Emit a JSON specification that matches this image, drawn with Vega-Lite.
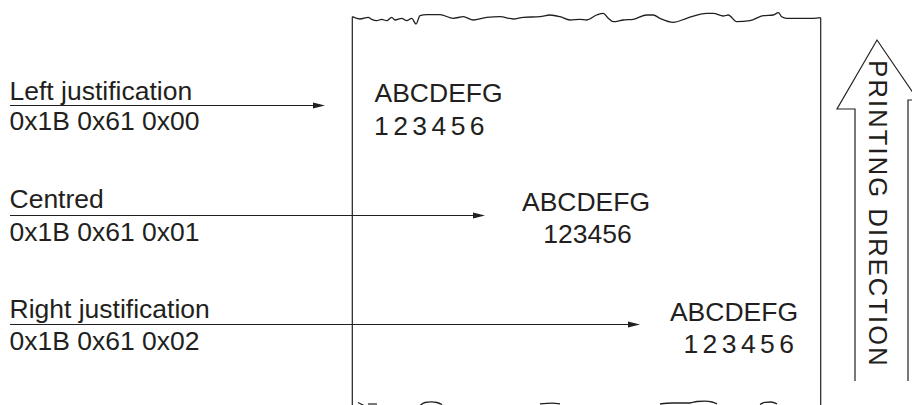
{
  "$schema": "https://vega.github.io/schema/vega-lite/v6.json",
  "width": 912,
  "height": 405,
  "autosize": {"type": "none"},
  "padding": 0,
  "background": "white",
  "config": {"view": {"stroke": null}},
  "datasets": {
    "lines": [
      {"seg": "arrow1", "i": 0, "x": 10, "y": 105.5},
      {"seg": "arrow1", "i": 1, "x": 320, "y": 105.5},
      {"seg": "arrow2", "i": 0, "x": 10, "y": 215.5},
      {"seg": "arrow2", "i": 1, "x": 480, "y": 215.5},
      {"seg": "arrow3", "i": 0, "x": 10, "y": 324.5},
      {"seg": "arrow3", "i": 1, "x": 635, "y": 324.5},
      {"seg": "paperL", "i": 0, "x": 352.3, "y": 16.7},
      {"seg": "paperL", "i": 1, "x": 352.3, "y": 406},
      {"seg": "paperR", "i": 0, "x": 820.7, "y": 17.7},
      {"seg": "paperR", "i": 1, "x": 820.7, "y": 406},
      {"seg": "dir", "i": 0, "x": 855, "y": 381},
      {"seg": "dir", "i": 1, "x": 855, "y": 109},
      {"seg": "dir", "i": 2, "x": 837, "y": 109},
      {"seg": "dir", "i": 3, "x": 877, "y": 40},
      {"seg": "dir", "i": 4, "x": 918, "y": 100},
      {"seg": "dir", "i": 5, "x": 908, "y": 100},
      {"seg": "dir", "i": 6, "x": 908, "y": 381},
      {"seg": "wave", "i": 0, "x": 352.3, "y": 16.7},
      {"seg": "wave", "i": 1, "x": 360, "y": 19},
      {"seg": "wave", "i": 2, "x": 368.3, "y": 17.3},
      {"seg": "wave", "i": 3, "x": 371.7, "y": 19.3},
      {"seg": "wave", "i": 4, "x": 376.7, "y": 20.7},
      {"seg": "wave", "i": 5, "x": 381.7, "y": 19.3},
      {"seg": "wave", "i": 6, "x": 386.7, "y": 20.7},
      {"seg": "wave", "i": 7, "x": 391.7, "y": 17.3},
      {"seg": "wave", "i": 8, "x": 395, "y": 20},
      {"seg": "wave", "i": 9, "x": 401.7, "y": 18.3},
      {"seg": "wave", "i": 10, "x": 406.7, "y": 20.7},
      {"seg": "wave", "i": 11, "x": 411.7, "y": 18.3},
      {"seg": "wave", "i": 12, "x": 416, "y": 24},
      {"seg": "wave", "i": 13, "x": 420, "y": 15.7},
      {"seg": "wave", "i": 14, "x": 426.7, "y": 14.7},
      {"seg": "wave", "i": 15, "x": 440, "y": 14.7},
      {"seg": "wave", "i": 16, "x": 453.3, "y": 18.3},
      {"seg": "wave", "i": 17, "x": 463.3, "y": 16.7},
      {"seg": "wave", "i": 18, "x": 473.3, "y": 20},
      {"seg": "wave", "i": 19, "x": 486.7, "y": 17.3},
      {"seg": "wave", "i": 20, "x": 500, "y": 16.7},
      {"seg": "wave", "i": 21, "x": 513.3, "y": 19},
      {"seg": "wave", "i": 22, "x": 523.3, "y": 17.3},
      {"seg": "wave", "i": 23, "x": 540, "y": 16.7},
      {"seg": "wave", "i": 24, "x": 550, "y": 15},
      {"seg": "wave", "i": 25, "x": 560, "y": 16.7},
      {"seg": "wave", "i": 26, "x": 570, "y": 20},
      {"seg": "wave", "i": 27, "x": 580, "y": 19.3},
      {"seg": "wave", "i": 28, "x": 586.7, "y": 20},
      {"seg": "wave", "i": 29, "x": 596.7, "y": 15},
      {"seg": "wave", "i": 30, "x": 603.3, "y": 13.3},
      {"seg": "wave", "i": 31, "x": 608.3, "y": 18.3},
      {"seg": "wave", "i": 32, "x": 613.3, "y": 21.7},
      {"seg": "wave", "i": 33, "x": 623.3, "y": 20},
      {"seg": "wave", "i": 34, "x": 633.3, "y": 19.3},
      {"seg": "wave", "i": 35, "x": 646.7, "y": 15},
      {"seg": "wave", "i": 36, "x": 653.3, "y": 15},
      {"seg": "wave", "i": 37, "x": 660, "y": 18.3},
      {"seg": "wave", "i": 38, "x": 673.3, "y": 22.3},
      {"seg": "wave", "i": 39, "x": 686.7, "y": 18.3},
      {"seg": "wave", "i": 40, "x": 706.7, "y": 13.3},
      {"seg": "wave", "i": 41, "x": 713.3, "y": 13.3},
      {"seg": "wave", "i": 42, "x": 723.3, "y": 16},
      {"seg": "wave", "i": 43, "x": 728.3, "y": 15},
      {"seg": "wave", "i": 44, "x": 736.7, "y": 21.7},
      {"seg": "wave", "i": 45, "x": 750, "y": 20.7},
      {"seg": "wave", "i": 46, "x": 763.3, "y": 15.7},
      {"seg": "wave", "i": 47, "x": 773.3, "y": 15},
      {"seg": "wave", "i": 48, "x": 778.3, "y": 12.7},
      {"seg": "wave", "i": 49, "x": 781.7, "y": 16.7},
      {"seg": "wave", "i": 50, "x": 786.7, "y": 18.3},
      {"seg": "wave", "i": 51, "x": 800, "y": 18.3},
      {"seg": "wave", "i": 52, "x": 813.3, "y": 18.3},
      {"seg": "wave", "i": 53, "x": 820.7, "y": 17.7},
      {"seg": "b1", "i": 0, "x": 358, "y": 402.5},
      {"seg": "b1", "i": 1, "x": 364, "y": 405.5},
      {"seg": "b1b", "i": 0, "x": 368, "y": 404},
      {"seg": "b1b", "i": 1, "x": 377, "y": 404},
      {"seg": "b2", "i": 0, "x": 420, "y": 405.5},
      {"seg": "b2", "i": 1, "x": 425, "y": 402.5},
      {"seg": "b2", "i": 2, "x": 431, "y": 401.8},
      {"seg": "b2", "i": 3, "x": 437, "y": 402.5},
      {"seg": "b2", "i": 4, "x": 442, "y": 404.5},
      {"seg": "b3", "i": 0, "x": 540, "y": 403.8},
      {"seg": "b3", "i": 1, "x": 552, "y": 403.2},
      {"seg": "b3", "i": 2, "x": 560, "y": 403.8},
      {"seg": "b4", "i": 0, "x": 660, "y": 404},
      {"seg": "b4", "i": 1, "x": 672, "y": 403},
      {"seg": "b4", "i": 2, "x": 690, "y": 403},
      {"seg": "b4", "i": 3, "x": 697, "y": 401.5},
      {"seg": "b4", "i": 4, "x": 705, "y": 401.2},
      {"seg": "b4", "i": 5, "x": 712, "y": 402},
      {"seg": "b4", "i": 6, "x": 717, "y": 403.8},
      {"seg": "b5", "i": 0, "x": 760, "y": 404.5},
      {"seg": "b5", "i": 1, "x": 765, "y": 402.3},
      {"seg": "b5", "i": 2, "x": 771, "y": 402},
      {"seg": "b5", "i": 3, "x": 777, "y": 403.8}
    ],
    "heads": [
      {"x": 325, "y": 105.5},
      {"x": 485, "y": 215.5},
      {"x": 640, "y": 324.5}
    ],
    "textsLeft": [
      {"label": "Left justification", "x": 9.5, "y": 100},
      {"label": "0x1B 0x61 0x00", "x": 9.5, "y": 129.5},
      {"label": "Centred", "x": 9.5, "y": 207.5},
      {"label": "0x1B 0x61 0x01", "x": 9.5, "y": 240.5},
      {"label": "Right justification", "x": 9.5, "y": 318.3},
      {"label": "0x1B 0x61 0x02", "x": 9.5, "y": 350},
      {"label": "ABCDEFG", "x": 374.5, "y": 102.3},
      {"label": "1\u200a\u200a2\u200a\u200a3\u200a\u200a4\u200a\u200a5\u200a\u200a6", "x": 374, "y": 135}
    ],
    "textsCenter": [
      {"label": "ABCDEFG", "x": 586, "y": 210.7},
      {"label": "123456", "x": 587.5, "y": 243.3}
    ],
    "textsRight": [
      {"label": "ABCDEFG", "x": 798, "y": 320.7},
      {"label": "1\u200a\u200a2\u200a\u200a3\u200a\u200a4\u200a\u200a5\u200a\u200a6", "x": 794, "y": 353.3}
    ],
    "textsVertical": [
      {"label": "P\u200aR\u200aI\u200aN\u200aT\u200aI\u200aN\u200aG\u200a \u200aD\u200aI\u200aR\u200aE\u200aC\u200aT\u200aI\u200aO\u200aN", "x": 868.5, "y": 213}
    ]
  },
  "encoding": {
    "x": {"field": "x", "type": "quantitative", "scale": {"domain": [0, 912], "nice": false, "zero": false}, "axis": null},
    "y": {"field": "y", "type": "quantitative", "scale": {"domain": [0, 405], "nice": false, "zero": false, "reverse": true}, "axis": null}
  },
  "layer": [
    {
      "data": {"name": "lines"},
      "transform": [{"filter": "datum.seg != 'wave' && datum.seg != 'b2' && datum.seg != 'b3' && datum.seg != 'b4' && datum.seg != 'b5'"}],
      "mark": {"type": "line", "color": "#231f20", "strokeWidth": 1.2, "interpolate": "linear"},
      "encoding": {"detail": {"field": "seg"}, "order": {"field": "i", "type": "quantitative"}}
    },
    {
      "data": {"name": "lines"},
      "transform": [{"filter": "datum.seg == 'wave' || datum.seg == 'b2' || datum.seg == 'b3' || datum.seg == 'b4' || datum.seg == 'b5'"}],
      "mark": {"type": "line", "color": "#231f20", "strokeWidth": 1.3, "interpolate": "monotone"},
      "encoding": {"detail": {"field": "seg"}, "order": {"field": "i", "type": "quantitative"}}
    },
    {
      "data": {"name": "heads"},
      "mark": {"type": "point", "shape": "M-1,-0.25L0,0L-1,0.25Z", "size": 576, "filled": true, "color": "#231f20", "opacity": 1, "strokeWidth": 0}
    },
    {
      "data": {"name": "textsLeft"},
      "mark": {"type": "text", "align": "left", "baseline": "alphabetic", "font": "Liberation Sans", "fontSize": 26.5, "color": "#231f20"},
      "encoding": {"text": {"field": "label"}}
    },
    {
      "data": {"name": "textsCenter"},
      "mark": {"type": "text", "align": "center", "baseline": "alphabetic", "font": "Liberation Sans", "fontSize": 26.5, "color": "#231f20"},
      "encoding": {"text": {"field": "label"}}
    },
    {
      "data": {"name": "textsRight"},
      "mark": {"type": "text", "align": "right", "baseline": "alphabetic", "font": "Liberation Sans", "fontSize": 26.5, "color": "#231f20"},
      "encoding": {"text": {"field": "label"}}
    },
    {
      "data": {"name": "textsVertical"},
      "mark": {"type": "text", "align": "center", "baseline": "alphabetic", "angle": 90, "font": "Liberation Sans", "fontSize": 25.5, "color": "#231f20"},
      "encoding": {"text": {"field": "label"}}
    }
  ]
}
